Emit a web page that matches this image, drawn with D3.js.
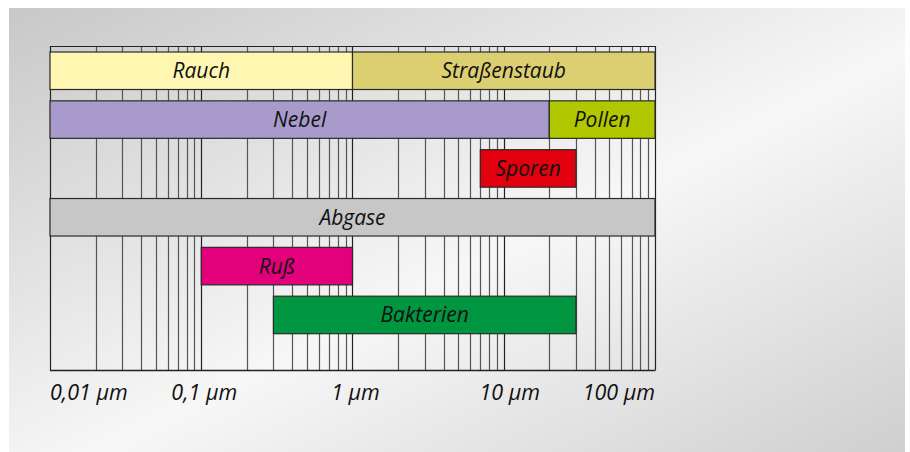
<!DOCTYPE html>
<html><head><meta charset="utf-8">
<script src="https://cdn.jsdelivr.net/npm/d3@7"></script>
<style>body{margin:0;background:#fff}svg{display:block}</style>
</head><body>
<svg id="c" width="910" height="452"></svg>
<script>
const rows = ["r1","r2","r3","r4","r5","r6"];
const names = ["Rauch","Straßenstaub","Nebel","Pollen","Sporen","Abgase","Ruß","Bakterien"];
const rowOf = ["r1","r1","r2","r2","r3","r4","r5","r6"];
const starts = [0.01, 1, 0.01, 20, 7, 0.01, 0.1, 0.3];
const ends = [1, 100, 20, 100, 30, 100, 1, 30];
const colors = ["#fff7b1","#dccf72","#a89bcc","#b1c800","#e2000e","#c6c7c6","#e2007b","#00953f"];
const tickValues = [0.01, 0.1, 1, 10, 100];
const tickLabels = ["0,01 µm","0,1 µm","1 µm","10 µm","100 µm"];

const svg = d3.select("#c");
const defs = svg.append("defs");
const g = defs.append("linearGradient").attr("id","bg").attr("x1","0").attr("y1","0").attr("x2","1").attr("y2","1");
g.append("stop").attr("offset","0").attr("stop-color","#c8c8c8");
g.append("stop").attr("offset","0.55").attr("stop-color","#f7f7f7");
g.append("stop").attr("offset","1").attr("stop-color","#cfcfcf");
svg.append("rect").attr("x",9).attr("y",8).attr("width",896).attr("height",444).attr("fill","url(#bg)");

const x = d3.scaleLog().domain([0.01,100]).range([50,655]);
const y = d3.scaleBand().domain(rows).range([52,333.7]).paddingInner(0.232).paddingOuter(0);
const gridTop = 46, gridBottom = 370;

const gridVals = [];
for (let e=-2;e<2;e++) for (let m=1;m<10;m++) gridVals.push(m*Math.pow(10,e));
gridVals.push(100);
svg.append("g").selectAll("line").data(gridVals).join("line")
  .attr("x1",d=>Math.round(x(d))+0.5).attr("x2",d=>Math.round(x(d))+0.5)
  .attr("y1",gridTop).attr("y2",gridBottom)
  .attr("stroke",(d,i)=> (i%9===0)?"#222":"#555").attr("stroke-width",1.2);
svg.append("line").attr("x1",50).attr("x2",655.5).attr("y1",gridTop+0.5).attr("y2",gridTop+0.5).attr("stroke","#222").attr("stroke-width",1.2);
svg.append("line").attr("x1",50).attr("x2",655.5).attr("y1",gridBottom+0.5).attr("y2",gridBottom+0.5).attr("stroke","#222").attr("stroke-width",1.5);

const data = names.map((n,i)=>({name:n,row:rowOf[i],s:starts[i],e:ends[i],c:colors[i]}));
const bars = svg.append("g").selectAll("g").data(data).join("g");
bars.append("rect")
  .attr("x",d=>x(d.s)).attr("width",d=>x(d.e)-x(d.s))
  .attr("y",d=>y(d.row)).attr("height",y.bandwidth())
  .attr("fill",d=>d.c).attr("stroke","#2a2a2a").attr("stroke-width",1.2);
bars.append("text")
  .attr("x",d=>(x(d.s)+x(d.e))/2).attr("y",d=>y(d.row)+y.bandwidth()/2+7.5)
  .attr("text-anchor","middle")
  .style("font-family","'Open Sans', sans-serif").style("font-style","italic")
  .style("font-size","21px").attr("fill","#111").text(d=>d.name);

svg.append("g").selectAll("text").data(tickValues).join("text")
  .attr("x",(d,i)=> i===0? x(d) : i===tickValues.length-1 ? x(d) : x(d)+ (i===3?6:3))
  .attr("y",399.5)
  .attr("text-anchor",(d,i)=> i===0?"start": i===tickValues.length-1?"end":"middle")
  .style("font-family","'Open Sans', sans-serif").style("font-style","italic")
  .style("font-size","21.5px").attr("fill","#111")
  .text((d,i)=>tickLabels[i]);
</script>
</body></html>
